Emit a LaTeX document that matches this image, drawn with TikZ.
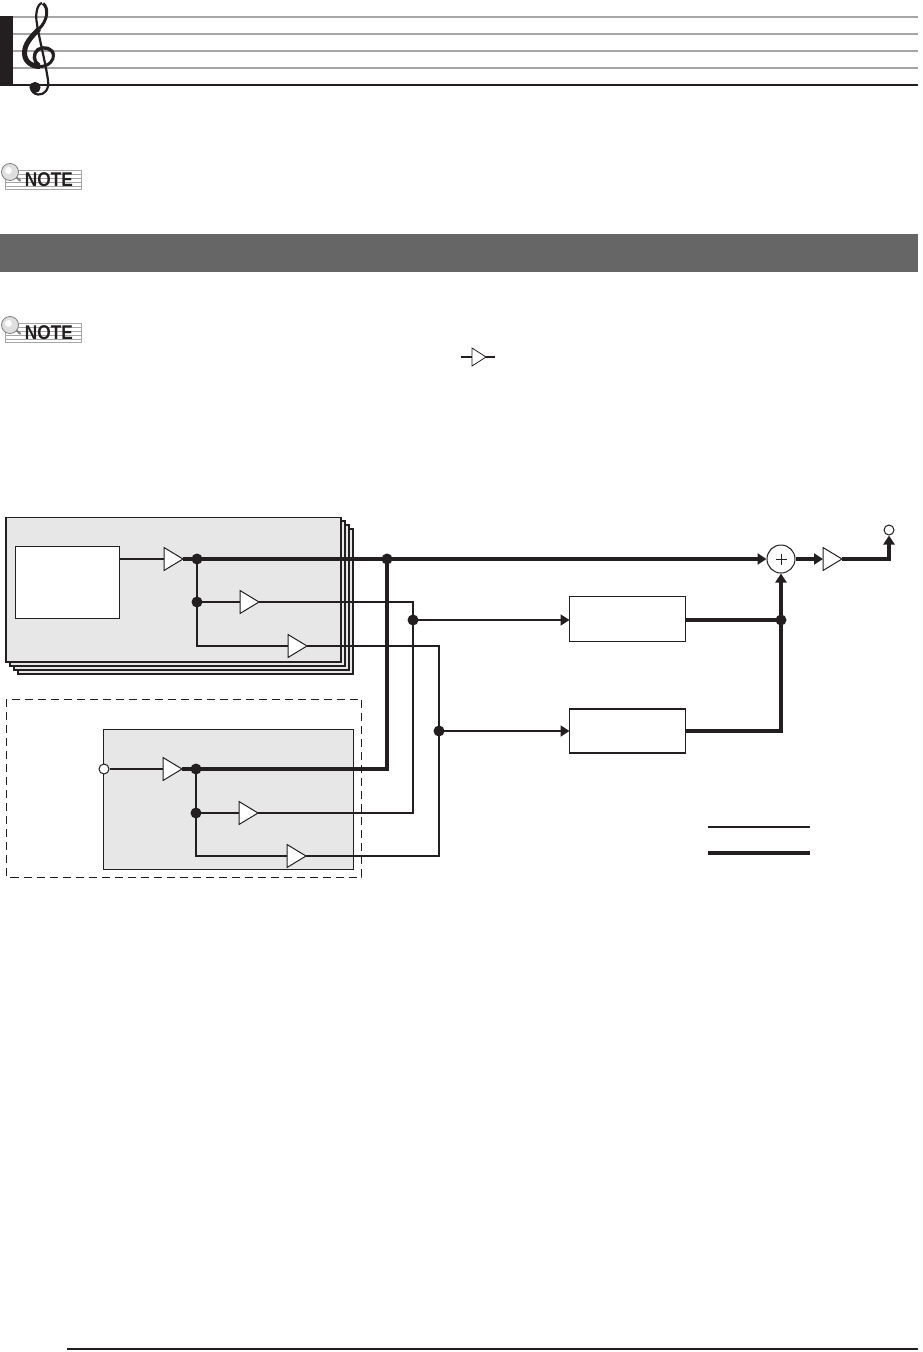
\documentclass[tikz,border=0pt]{standalone}
\usepackage{fontspec}
\setmainfont{Liberation Sans}
\usetikzlibrary{arrows.meta,shapes.geometric}
\definecolor{ink}{HTML}{231F20}
\definecolor{staffgray}{HTML}{A6A6A6}
\definecolor{panel}{HTML}{E7E7E7}
\definecolor{bar}{HTML}{666666}
\tikzset{
  thin line/.style={draw=ink,line width=2pt,line join=miter},
  thick line/.style={draw=ink,line width=4pt,line join=miter},
  tip/.style={-{Triangle[length=9pt,width=11pt,fill=ink]}},
  amp/.style={isosceles triangle,isosceles triangle apex angle=62,isosceles triangle stretches,
    minimum width=23pt,minimum height=19pt,inner sep=0pt,outer sep=0pt,draw=ink,line width=1pt,fill=white,anchor=lower side},
  dot/.style={circle,fill=ink,draw=none,minimum size=11pt,inner sep=0pt},
  port/.style={circle,fill=white,draw=ink,line width=1pt,minimum size=10pt,inner sep=0pt},
  panelbox/.style={draw=ink,line width=1.1pt,fill=panel},
  fxbox/.style={draw=ink,line width=1.2pt,fill=white},
  staffline/.style={draw=staffgray,line width=1.5pt},
}
\newcommand{\notebadge}[2]{%
  \begin{scope}[yshift=#1]
    \fill[white] (5,0) rectangle (81.5,19);
    \draw[staffgray,line width=.7pt] (5.5,0) rectangle (81.5,19);
    \foreach \yy in {4,8,12,16} \draw[staffgray,line width=.5pt] (5.5,\yy) -- (81.5,\yy);
    \draw[gray,line width=2pt] (14,5) -- (20.5,11);
    \node[inner sep=0pt,font=\bfseries\fontsize{17.3pt}{18pt}\selectfont,text=ink] (#2) at (49,9.5) {\scalebox{1}[1.15]{NOTE}};
    \fill[white!75!gray] (10,2) circle (8.5);
    \draw[gray,line width=.8pt] (10,2) circle (8.5);
    \fill[white] (8.5,0.5) circle (3.5);
  \end{scope}}
\begin{document}
\begin{tikzpicture}[x=1pt,y=-1pt]
\useasboundingbox (0,0) rectangle (922,1352);
% staff header
\foreach \yy in {17,34,51,68} \draw[staffline] (13,\yy) -- (918,\yy);
\fill[ink] (0,16) rectangle (13,86);
\draw[ink,line width=1.8pt] (13,85) -- (918,85);
% treble clef
\draw[ink,line width=2.2pt,fill=none] (42,3) .. controls (37,4) and (35,15) .. (37,24)
  .. controls (39,38) and (45,60) .. (48,80) .. controls (49.5,90) and (44,95) .. (38,94.5)
  .. controls (34,94) and (31,91) .. (32,88);
\draw[ink,line width=3pt] (43,3.5) .. controls (49,8) and (48,20) .. (39,29);
\draw[ink,line width=5pt] (39,29) .. controls (31,37) and (24.5,44) .. (24.5,53) .. controls (24.5,62) and (32,66.5) .. (40,66.5);
\draw[ink,line width=3pt] (40,66.5) .. controls (49,66.5) and (54,60) .. (53.5,55);
\draw[ink,line width=3.4pt] (53.5,55) .. controls (52.5,48) and (44,46) .. (38,49.5) .. controls (33,53) and (33,62) .. (39,65);
\fill[ink] (35,87.5) circle (5.6);
% note badges
\notebadge{-170pt}{noteA}
\notebadge{-323pt}{noteB}
% section bar
\fill[bar] (0,234) rectangle (918,272);
% small amplifier symbol
\node[amp,line width=.8pt,minimum width=18pt,minimum height=14pt] (keyamp) at (472,357) {};
\coordinate (keyin) at (461,357);
\coordinate (keyout) at (495,357);
\draw[ink,line width=1.5pt] (keyin) -- (keyamp.lower side);
\draw[ink,line width=1.5pt] (keyamp.apex) -- (keyout);
% stacked panels
\draw[panelbox] (18,529) rectangle (353,674);
\draw[panelbox] (14,525) rectangle (349,670);
\draw[panelbox] (10,521) rectangle (345,666);
\draw[panelbox] (6,517.5) rectangle (341,662);
\node[fxbox,line width=1pt,minimum width=104.5pt,minimum height=72pt,inner sep=0pt,outer sep=0pt] (source) at (67.25,582) {};
% lower group
\draw[ink,line width=1pt,dash pattern=on 8pt off 5pt] (6.5,699) rectangle (361.5,877);
\draw[panelbox] (103.5,729.5) rectangle (353.5,869.5);
% effect boxes
\node[fxbox,minimum width=116pt,minimum height=45pt,inner sep=0pt,outer sep=0pt] (fxA) at (627.5,619) {};
\node[fxbox,minimum width=116pt,minimum height=44pt,inner sep=0pt,outer sep=0pt] (fxB) at (627.5,731) {};
% amplifiers
\node[amp] (a1) at (164,559) {};
\node[amp] (a2) at (240,602) {};
\node[amp] (a3) at (288,646) {};
\node[amp] (a4) at (163,769) {};
\node[amp] (a5) at (239,813) {};
\node[amp] (a6) at (287,856) {};
\node[amp] (a7) at (823,559) {};
% junctions
\node[dot] (d1) at (197,559) {};
\node[dot] (d2) at (197,602) {};
\node[dot] (d3) at (196,769) {};
\node[dot] (d4) at (196,813) {};
\node[dot] (bus) at (387,559) {};
\node[dot] (j1) at (413,620) {};
\node[dot] (j2) at (439,731) {};
\node[dot] (j3) at (781,620) {};
% ports and summing point
\node[port] (inport) at (104,769) {};
\node[port] (outport) at (889,530) {};
\node[circle,draw=ink,fill=white,line width=1pt,minimum size=28pt,inner sep=0pt] (sum) at (781,559) {};
\draw[ink,line width=.8pt] ([xshift=-5.5pt]sum.center) -- ([xshift=5.5pt]sum.center);
\draw[ink,line width=.8pt] ([yshift=-5.5pt]sum.center) -- ([yshift=5.5pt]sum.center);
% thin connectors
\draw[thin line] (source.east |- a1.lower side) -- (a1.lower side);
\draw[thin line] (inport) -- (a4.lower side);
\draw[thin line] (d1.center) -- (d2.center) |- (a3.lower side);
\draw[thin line] (d2.center) -- (a2.lower side);
\draw[thin line] (d3.center) -- (d4.center) |- (a6.lower side);
\draw[thin line] (d4.center) -- (a5.lower side);
\draw[thin line] (a2.apex) -| (j1.center) |- (a5.apex);
\draw[thin line] (a3.apex) -| (j2.center) |- (a6.apex);
\draw[thin line,tip] (j1.center) -- (j1.center -| fxA.west);
\draw[thin line,tip] (j2.center) -- (fxB.west);
% thick connectors
\draw[thick line] (a1.apex) -- (d1.center);
\draw[thick line] (a4.apex) -- (d3.center);
\draw[thick line,tip] (d1.center) -- (sum.west);
\draw[thick line] (d3.center) -| (bus.center);
\draw[thick line] (j3.center -| fxA.east) -- (j3.center);
\draw[thick line,tip] (fxB.east) -| (sum.south);
\draw[thick line,tip] (sum.east) -- (a7.lower side);
\draw[thick line,tip] (a7.apex) -| (outport.south);
% legend
\coordinate (legA) at (708,827);
\coordinate (legB) at (810,827);
\coordinate (legC) at (708,853);
\coordinate (legD) at (810,853);
\draw[ink,line width=2pt] (legA) -- (legB);
\draw[ink,line width=4pt] (legC) -- (legD);
% page rule
\draw[ink,line width=2.5pt] (67,1349) -- (918,1349);
\end{tikzpicture}
\end{document}
